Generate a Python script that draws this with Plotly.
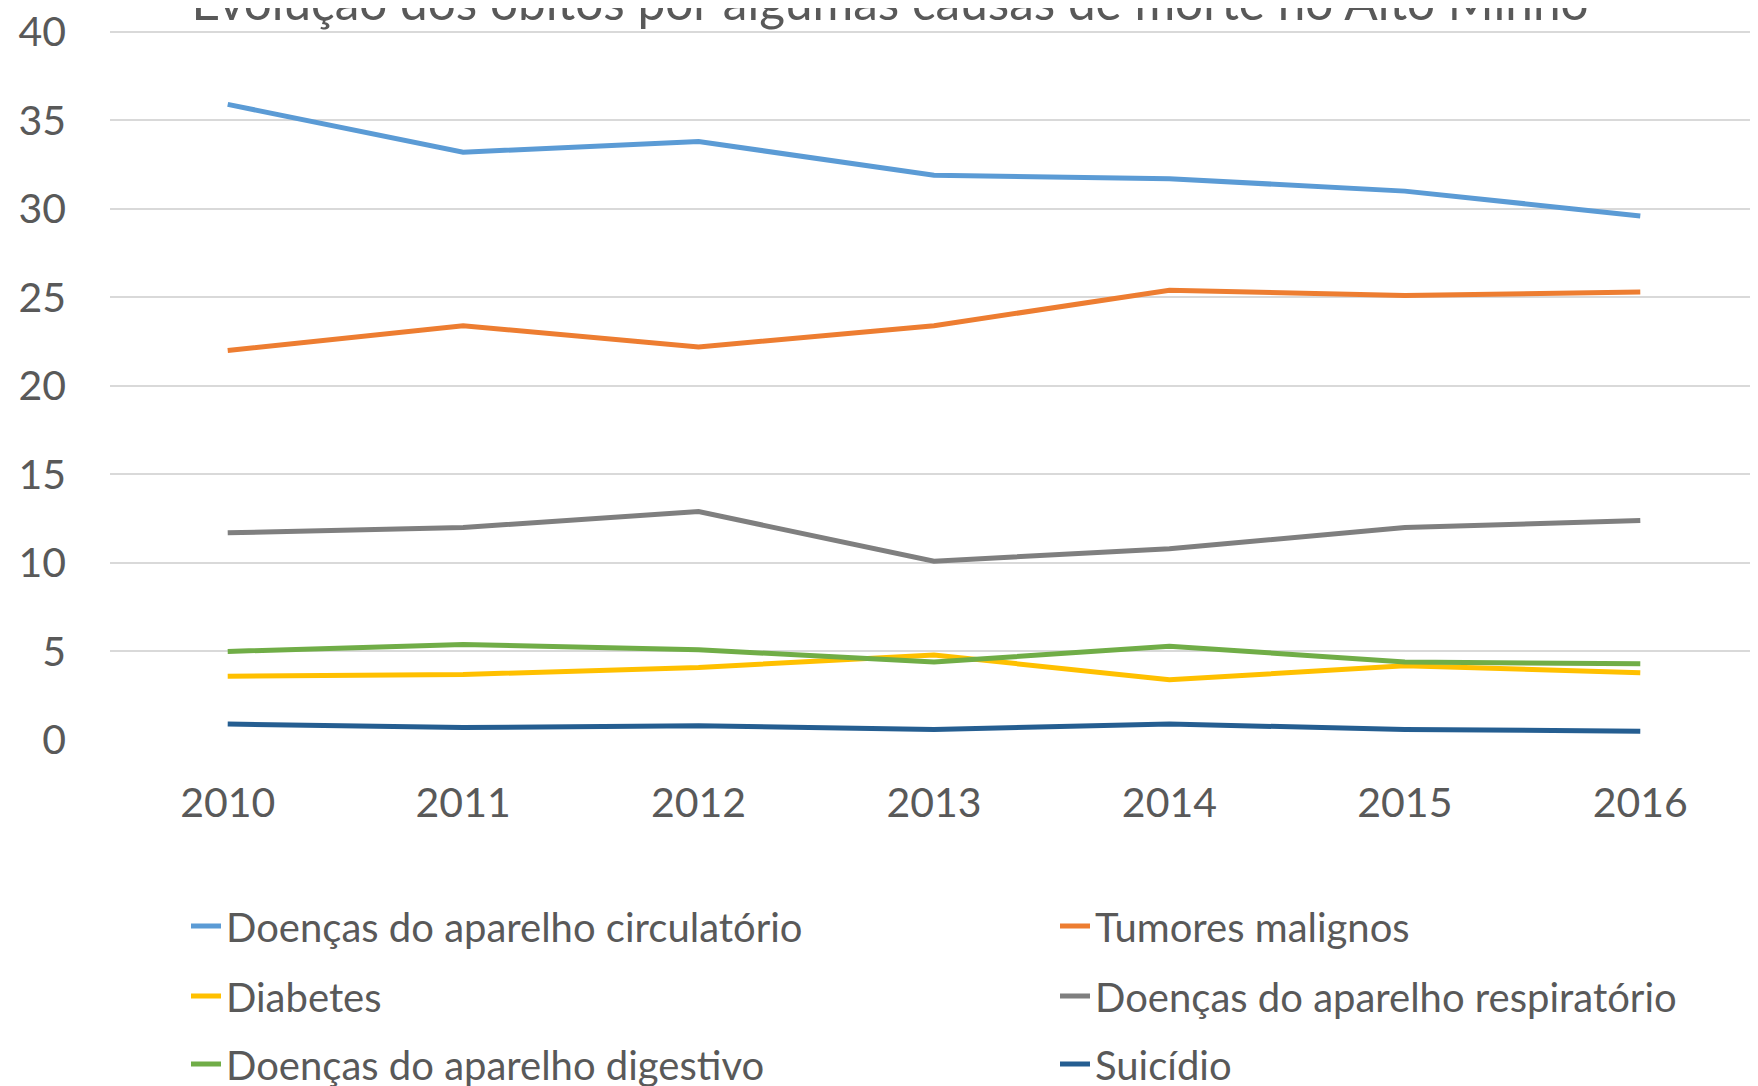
import plotly.graph_objects as go

years = ["2010", "2011", "2012", "2013", "2014", "2015", "2016"]
circulatorio = [35.9, 33.2, 33.8, 31.9, 31.7, 31.0, 29.6]
tumores = [22.0, 23.4, 22.2, 23.4, 25.4, 25.1, 25.3]
diabetes = [3.6, 3.7, 4.1, 4.8, 3.4, 4.2, 3.8]
respiratorio = [11.7, 12.0, 12.9, 10.1, 10.8, 12.0, 12.4]
digestivo = [5.0, 5.4, 5.1, 4.4, 5.3, 4.4, 4.3]
suicidio = [0.9, 0.7, 0.8, 0.6, 0.9, 0.6, 0.5]
y_ticks = [0, 5, 10, 15, 20, 25, 30, 35, 40]

FONT = "Lato, 'Open Sans', sans-serif"
GREY = "#595959"

# the page body adds an 8px margin, so the figure is 8px smaller each way
W, H = 1750, 1078
ml, mr, mt, mb = 102, 0, 22, 346
pw, ph = W - ml - mr, H - mt - mb

# (name, values, colour, legend column, legend row)
series = [
    ("Doenças do aparelho circulatório", circulatorio, "#5B9BD5", 0, 0),
    ("Tumores malignos", tumores, "#ED7D31", 1, 0),
    ("Diabetes", diabetes, "#FFC000", 0, 1),
    ("Doenças do aparelho respiratório", respiratorio, "#7F7F7F", 1, 1),
    ("Doenças do aparelho digestivo", digestivo, "#70AD47", 0, 2),
    ("Suicídio", suicidio, "#255E91", 1, 2),
]
col_x_px = [178, 1047]
row_y_px = [918, 988, 1056]

fig = go.Figure()
legends = {}
for i, (name, vals, color, c, r) in enumerate(series):
    lg = "legend" if i == 0 else f"legend{i + 1}"
    fig.add_trace(go.Scatter(x=years, y=vals, name=name, mode="lines",
                             line=dict(color=color, width=5),
                             legend=lg))
    legends[lg] = dict(
        orientation="v",
        x=(col_x_px[c] - ml) / pw, xanchor="left",
        y=-(row_y_px[r] - (H - mb)) / ph, yanchor="middle",
        font=dict(family=FONT, size=40, color=GREY),
        bgcolor="rgba(0,0,0,0)", itemwidth=30,
    )

fig.update_layout(
    width=W, height=H,
    margin=dict(l=ml, r=mr, t=mt, b=mb, autoexpand=False),
    paper_bgcolor="white", plot_bgcolor="white",
    title=dict(text="Evolução dos óbitos por algumas causas de morte no Alto Minho",
               font=dict(family=FONT, size=49.5, color=GREY),
               x=882 / W, xanchor="center", xref="container",
               y=1 - 12 / H, yanchor="bottom", yref="container"),
    xaxis=dict(type="category", range=[-0.5, 6.5], showgrid=False,
               showline=False, ticks="", ticklabelstandoff=35,
               tickfont=dict(family=FONT, size=41, color=GREY)),
    yaxis=dict(range=[0, 40.1], tickvals=y_ticks, showgrid=True,
               gridcolor="#D9D9D9", gridwidth=1.5, zeroline=False,
               showline=False, ticks="", ticklabelstandoff=43,
               ticklabeloverflow="allow",
               tickfont=dict(family=FONT, size=41, color=GREY)),
    showlegend=True,
    **legends,
)

fig.write_html("out.html")
